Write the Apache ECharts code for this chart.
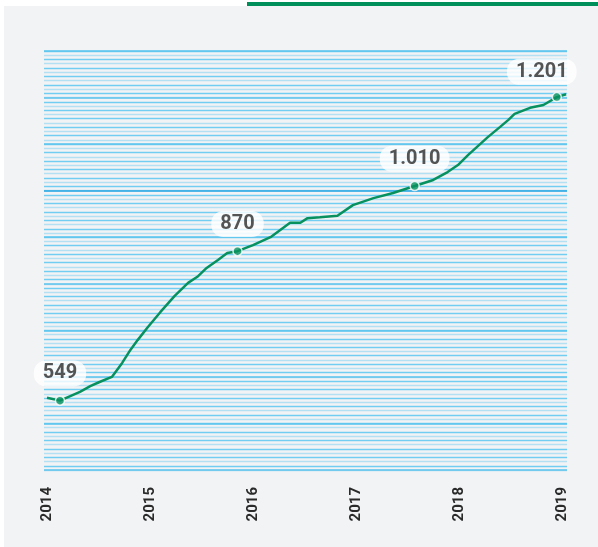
<!DOCTYPE html>
<html>
<head>
<meta charset="utf-8">
<script src="https://cdn.jsdelivr.net/npm/echarts@6/dist/echarts.min.js"></script>
<style>
  html, body { margin: 0; padding: 0; background: #fff; }
  #panel { position: absolute; left: 4px; top: 6px; width: 594px; height: 541px; background: #f2f3f5; }
  #bar { position: absolute; left: 247px; top: 2px; width: 351px; height: 4px; background: #008f5b; }
  #chart { position: absolute; left: 0; top: 0; width: 598px; height: 547px; }
</style>
</head>
<body>
<div id="panel"></div>
<div id="bar"></div>
<div id="chart"></div>
<script>
  // zeitpunkte (dezimaljahre) und werte der linie
  var dates = [2014.00, 2014.126, 2014.32, 2014.42, 2014.51, 2014.63, 2014.73, 2014.81, 2014.88, 2014.98,
    2015.10, 2015.24, 2015.37, 2015.46, 2015.55, 2015.66, 2015.75, 2015.85, 2016.00, 2016.17,
    2016.36, 2016.46, 2016.53, 2016.65, 2016.82, 2016.97, 2017.17, 2017.36, 2017.57, 2017.75,
    2017.89, 2017.99, 2018.09, 2018.28, 2018.40, 2018.48, 2018.54, 2018.69, 2018.82, 2018.95, 2019.04];
  var values = [555, 549, 568, 580, 589, 600, 630, 658, 679, 707,
    739, 774, 802, 815, 834, 851, 866, 870, 883, 900,
    931, 931, 941, 943, 946, 969, 984, 995, 1010, 1023,
    1040, 1055, 1077, 1115, 1137, 1152, 1165, 1178, 1184, 1201, 1207];
  // punkte mit beschriftung
  var markIdx = [1, 17, 28, 39];
  var years = [2014, 2015, 2016, 2017, 2018, 2019];

  var fmt = function (v) {
    return String(v).replace(/\B(?=(\d{3})+(?!\d))/g, '.');
  };

  var lineData = dates.map(function (d, i) { return [d, values[i]]; });
  var markData = markIdx.map(function (i, k) {
    var item = { value: [dates[i], values[i]] };
    if (k === markIdx.length - 1) {
      item.label = { offset: [-15, 2] };
    }
    return item;
  });

  var majorColors = ['#5cc4ee', '#5cc4ee', '#5cc4ee', '#5cc4ee', '#5cc4ee', '#5cc4ee', '#1ea3e3', '#5cc4ee', '#5cc4ee', '#5cc4ee'];

  var myChart = echarts.init(document.getElementById('chart'), null, { renderer: 'canvas' });
  var option = {
    backgroundColor: 'transparent',
    animation: false,
    textStyle: { fontFamily: 'Roboto' },
    grid: { left: 44, right: 31, top: 51, bottom: 77 },
    xAxis: {
      type: 'value',
      min: 2013.971,
      max: 2019.049,
      splitLine: { show: false },
      axisLine: { show: false },
      axisTick: { show: false },
      axisLabel: {
        customValues: years,
        rotate: 90,
        margin: 17,
        fontSize: 15,
        fontWeight: 'bold',
        color: '#2a2a2a',
        formatter: function (v) { return Math.round(v); }
      }
    },
    yAxis: [{
      // dünne hilfslinien
      type: 'value',
      min: 0,
      max: 99,
      interval: 1,
      z: 0,
      axisLine: { show: false },
      axisTick: { show: false },
      axisLabel: { show: false },
      splitLine: { lineStyle: { color: ['#b4e0f4', '#72cdf2'], width: 1.3 } }
    }, {
      type: 'value',
      min: 400,
      max: 1300,
      interval: 100,
      z: 1,
      axisLine: { show: false },
      axisTick: { show: false },
      axisLabel: { show: false },
      splitLine: { lineStyle: { color: majorColors, width: 1.5 } }
    }],
    series: [{
      type: 'line',
      yAxisIndex: 1,
      data: lineData,
      showSymbol: false,
      clip: false,
      lineStyle: { color: '#07915e', width: 2.5 },
      z: 3
    }, {
      type: 'scatter',
      yAxisIndex: 1,
      data: markData,
      symbol: 'circle',
      symbolSize: 9,
      itemStyle: { color: '#07915e', borderColor: '#fff', borderWidth: 1.5 },
      z: 4,
      label: {
        show: true,
        position: 'top',
        distance: 9,
        formatter: function (p) { return fmt(p.value[1]); },
        fontSize: 20,
        fontWeight: 'bold',
        lineHeight: 22,
        color: '#2b2b2b',
        backgroundColor: '#fff',
        borderRadius: 12,
        padding: [2, 9]
      }
    }]
  };
  myChart.setOption(option);
  window.addEventListener('resize', function () { myChart.resize(); });
</script>
</body>
</html>
